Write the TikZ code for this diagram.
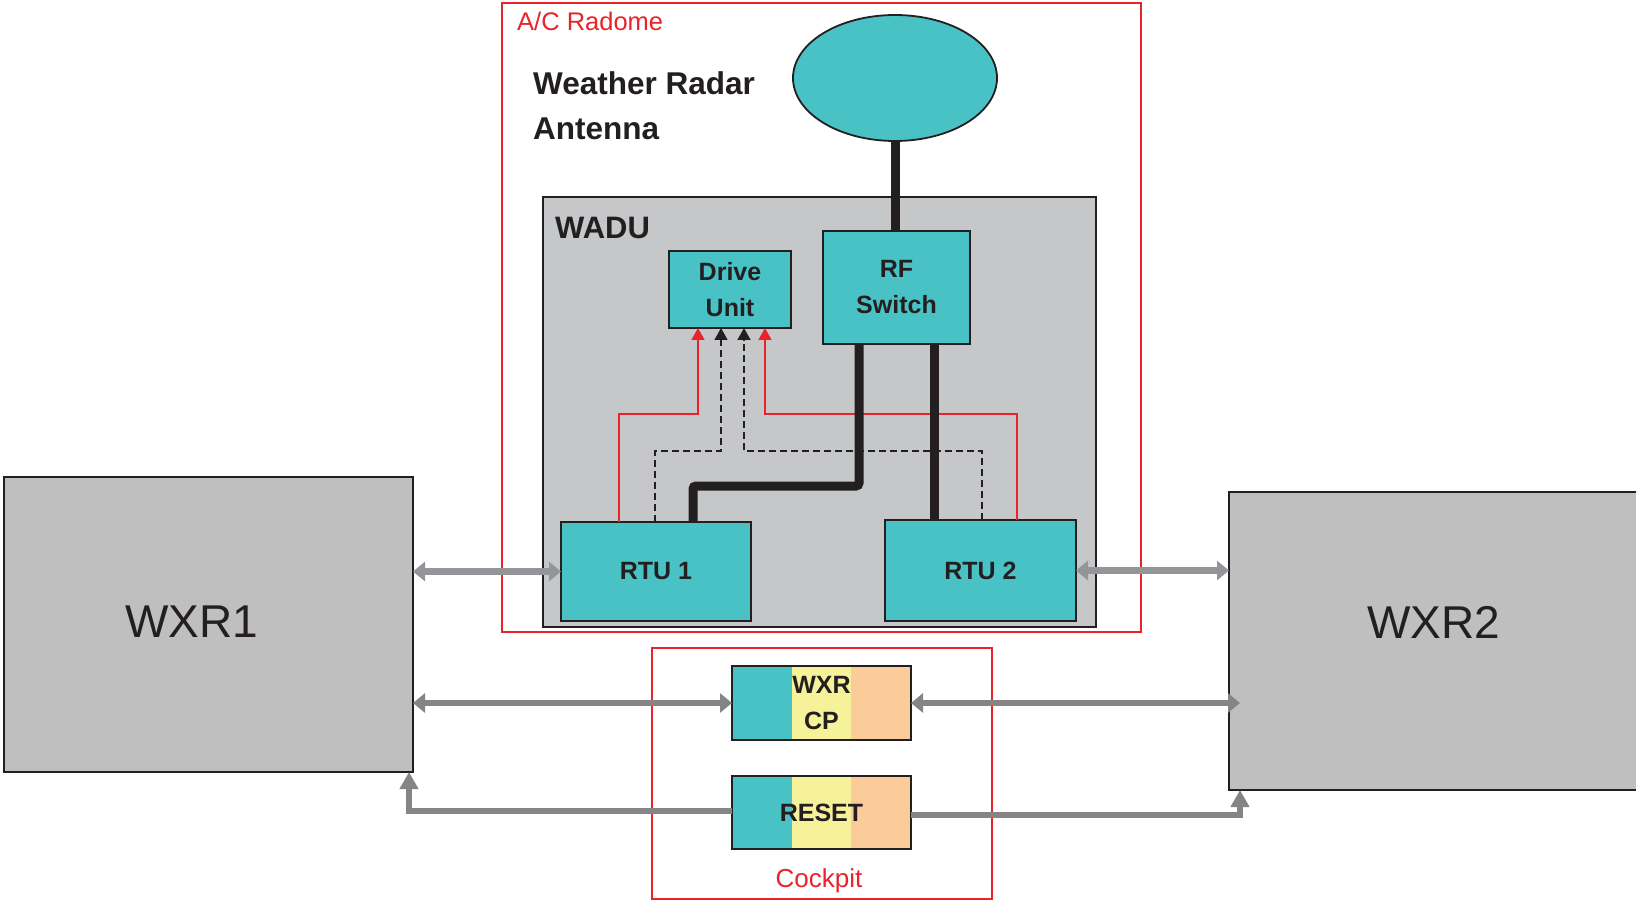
\documentclass[tikz,border=0pt]{standalone}
\usepackage{fontspec}
\setmainfont{Liberation Sans}
\usetikzlibrary{arrows.meta,shapes.geometric,calc}
\definecolor{tealc}{HTML}{48C2C5}
\definecolor{waduc}{HTML}{C6C7C9}
\definecolor{wxrc}{HTML}{BFBFBF}
\definecolor{yelc}{HTML}{F5F29A}
\definecolor{peachc}{HTML}{FBCB99}
\definecolor{redc}{HTML}{E8242A}
\definecolor{arrc}{HTML}{858585}
\definecolor{arrlc}{HTML}{939598}
\definecolor{blk}{HTML}{231F20}
\begin{document}
\begin{tikzpicture}[x=1pt,y=-1pt,
  frame/.style={draw=redc,line width=1.5pt},
  box/.style={draw=blk,line width=2pt,inner sep=0pt,outer sep=0pt,anchor=north west},
  tbox/.style={box,fill=tealc,font=\fontsize{25}{36}\selectfont\bfseries,align=center,text=blk},
  bandbox/.style={box,font=\fontsize{25}{36}\selectfont\bfseries,align=center,text=blk,
    path picture={
      \fill[tealc] (path picture bounding box.south west) rectangle ([xshift=60pt]path picture bounding box.north west);
      \fill[yelc] ([xshift=60pt]path picture bounding box.south west) rectangle ([xshift=119pt]path picture bounding box.north west);
      \fill[peachc] ([xshift=119pt]path picture bounding box.south west) rectangle (path picture bounding box.north east);
    }},
  redln/.style={draw=redc,line width=1.6pt,-{Triangle[width=13pt,length=12pt]}},
  dashln/.style={draw=blk,line width=1.5pt,dash pattern=on 7pt off 4pt,-{Triangle[width=13pt,length=12pt]}},
  thickblk/.style={draw=blk,line width=9pt,rounded corners=3pt},
  garrow/.style={draw=arrc,line width=6.5pt,{Triangle[width=19pt,length=12pt]}-{Triangle[width=19pt,length=12pt]}},
  garrowl/.style={garrow,draw=arrlc},
  gsingle/.style={draw=arrc,line width=6pt,-{Triangle[width=18pt,length=17pt]}}
]
\useasboundingbox (0,0) rectangle (1636,901);
\fill[white] (0,0) rectangle (1636,901);

% frames
\node[frame,inner sep=0pt,outer sep=0pt,anchor=north west,minimum width=639,minimum height=629] (radome) at (502,3) {};
\node[text=redc,font=\fontsize{25.5}{30}\selectfont,anchor=west,inner sep=0pt] (radomelbl) at (517,21) {A/C Radome};
\node[frame,inner sep=0pt,outer sep=0pt,anchor=north west,minimum width=340,minimum height=251] (cockpit) at (652,648) {};
\node[text=redc,font=\fontsize{26}{30}\selectfont,inner sep=0pt] (cockpitlbl) at (819,881) {Cockpit};

% antenna
\node[ellipse,draw=blk,line width=1.8pt,fill=tealc,minimum width=204,minimum height=126,inner sep=0pt] (ant) at (895,78) {};
\node[font=\fontsize{31.5}{45}\selectfont\bfseries,text=blk,align=left,anchor=west,inner sep=0pt] (antlbl) at (533,106) {Weather Radar\\Antenna};

% WADU
\node[box,fill=waduc,minimum width=553,minimum height=430] (wadu) at (543,197) {};
\node[font=\fontsize{31}{36}\selectfont\bfseries,text=blk,anchor=west,inner sep=0pt] (wadulbl) at (555,228) {WADU};

\node[tbox,minimum width=122,minimum height=77] (drive) at (669,251) {Drive\\Unit};
\node[tbox,minimum width=147,minimum height=113] (rf) at (823,231) {RF\\Switch};
\node[tbox,minimum width=190,minimum height=99] (rtu1) at (561,522) {RTU 1};
\node[tbox,minimum width=191,minimum height=101] (rtu2) at (885,520) {RTU 2};

% WXR units
\node[box,fill=wxrc,line width=1.8pt,minimum width=409,minimum height=295] (wxr1) at (4,477) {};
\node[font=\fontsize{46}{50}\selectfont,text=blk,inner sep=0pt] (wxr1lbl) at (192,622) {WXR1};
\node[box,fill=wxrc,line width=1.8pt,minimum width=420,minimum height=298] (wxr2) at (1229,492) {};
\node[font=\fontsize{46}{50}\selectfont,text=blk,inner sep=0pt] (wxr2lbl) at (1434,622) {WXR2};

% cockpit panels
\node[bandbox,minimum width=179,minimum height=74] (cp) at (732,666) {WXR\\CP};
\node[bandbox,minimum width=179,minimum height=73] (reset) at (732,776) {RESET};

% antenna feed
\draw[thickblk] (ant.south) -- (ant.south |- rf.north);

% control lines to drive unit
\draw[redln] ([xshift=58pt]rtu1.north west) -- ++(0,-108) -| ([xshift=29pt]drive.south west);
\draw[redln] ([xshift=132pt]rtu2.north west) -- ++(0,-106) -| ([xshift=96pt]drive.south west);
\draw[dashln] ([xshift=94pt]rtu1.north west) -- ++(0,-71) -| ([xshift=52pt]drive.south west);
\draw[dashln] ([xshift=97pt]rtu2.north west) -- ++(0,-69) -| ([xshift=75pt]drive.south west);

% RF lines
\draw[thickblk] ([xshift=36pt]rf.south west) -- ++(0,142) -| ([xshift=132pt]rtu1.north west);
\draw[thickblk,rounded corners=0pt] ([xshift=111pt]rf.south west) -- ([xshift=49pt]rtu2.north west);

% gray bus arrows
\draw[garrowl] (wxr1.east |- rtu1.west) -- (rtu1.west);
\draw[garrowl] (rtu2.east) -- (wxr2.west |- rtu2.east);
\draw[garrow] (wxr1.east |- cp.west) -- (cp.west);
\draw[garrow] (cp.east) -- ($(wxr2.west |- cp.east)+(11,0)$);
\draw[gsingle] ([yshift=2pt]reset.west) -| ([xshift=-4pt]wxr1.south east);
\draw[gsingle] ([yshift=-2pt]reset.east) -| ([xshift=11pt]wxr2.south west);
\end{tikzpicture}
\end{document}
